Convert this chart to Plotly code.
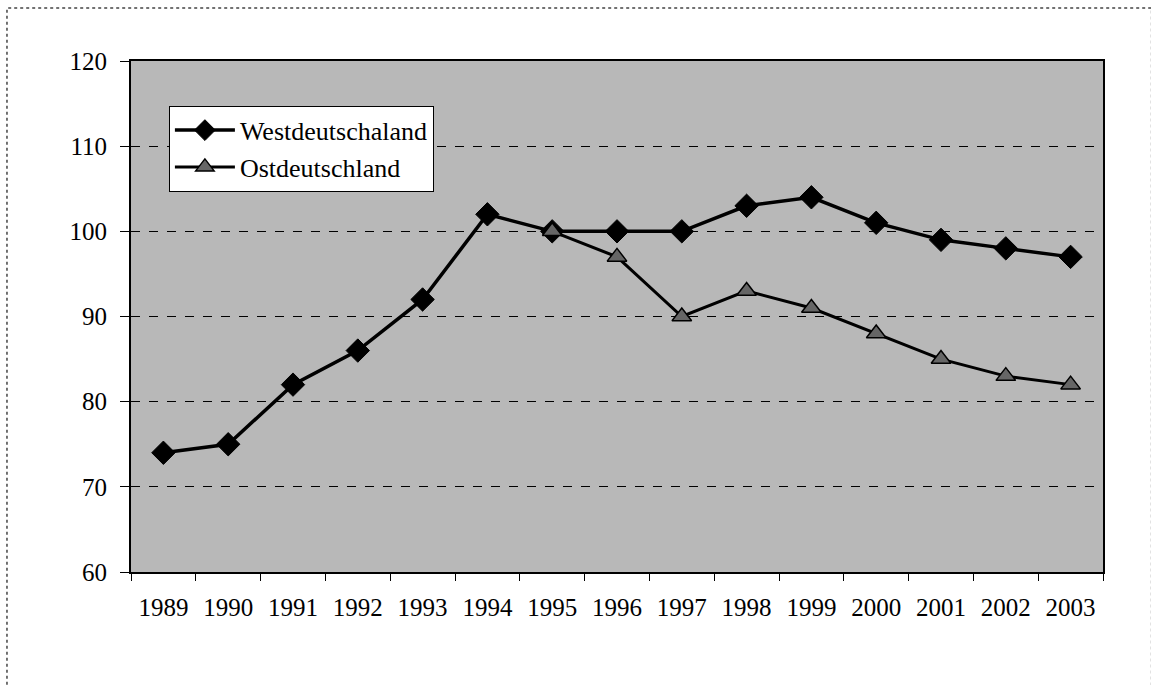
import plotly.graph_objects as go

years = ["1989", "1990", "1991", "1992", "1993", "1994", "1995", "1996",
         "1997", "1998", "1999", "2000", "2001", "2002", "2003"]
west = [74, 75, 82, 86, 92, 102, 100, 100, 100, 103, 104, 101, 99, 98, 97]
ost_years = ["1995", "1996", "1997", "1998", "1999", "2000", "2001", "2002", "2003"]
ost = [100, 97, 90, 93, 91, 88, 85, 83, 82]
y_ticks = [60, 70, 80, 90, 100, 110, 120]

FONT = "Liberation Serif, Times New Roman, serif"

fig = go.Figure()
fig.add_trace(go.Scatter(
    x=years, y=west, name="Westdeutschaland", mode="lines+markers",
    line=dict(color="black", width=3.5),
    marker=dict(symbol="diamond", size=18, color="black",
                line=dict(color="black", width=1)),
))
fig.add_trace(go.Scatter(
    x=ost_years, y=ost, name="Ostdeutschland", mode="lines+markers",
    line=dict(color="black", width=3),
    marker=dict(symbol="triangle-up", size=17, color="#666666",
                line=dict(color="black", width=1.5)),
))

# outer frame around the whole chart
fig.add_shape(type="rect", xref="paper", yref="paper",
              x0=-0.1276, x1=1.05, y0=-0.225, y1=1.1037,
              line=dict(color="#444444", width=1.5, dash="dot"),
              fillcolor="rgba(0,0,0,0)", layer="below")

fig.update_layout(
    width=1151, height=685,
    margin=dict(l=131, r=48, t=61, b=113),
    paper_bgcolor="white",
    plot_bgcolor="#b8b8b8",
    font=dict(family=FONT, size=25, color="black"),
    showlegend=True,
    legend=dict(
        x=0.039, y=0.9125, xanchor="left", yanchor="top",
        bgcolor="white", bordercolor="black", borderwidth=1,
        font=dict(family=FONT, size=26, color="black"),
        itemwidth=60, tracegroupgap=0,
    ),
    xaxis=dict(
        type="category", categoryorder="array", categoryarray=years,
        range=[-0.5, 14.5],
        showline=True, linecolor="black", linewidth=2, mirror=True,
        ticks="outside", tickson="boundaries", ticklen=7,
        tickcolor="black", tickwidth=1,
        showgrid=False, ticklabelstandoff=12,
        tickfont=dict(family=FONT, size=25),
    ),
    yaxis=dict(
        range=[60, 120], tickvals=y_ticks,
        showline=True, linecolor="black", linewidth=2, mirror=True,
        ticks="outside", ticklen=9, tickcolor="black", tickwidth=1,
        showgrid=True, gridcolor="black", gridwidth=1, griddash="dash",
        zeroline=False, ticklabelstandoff=8,
        tickfont=dict(family=FONT, size=25),
    ),
)

fig.write_html("out.html")
